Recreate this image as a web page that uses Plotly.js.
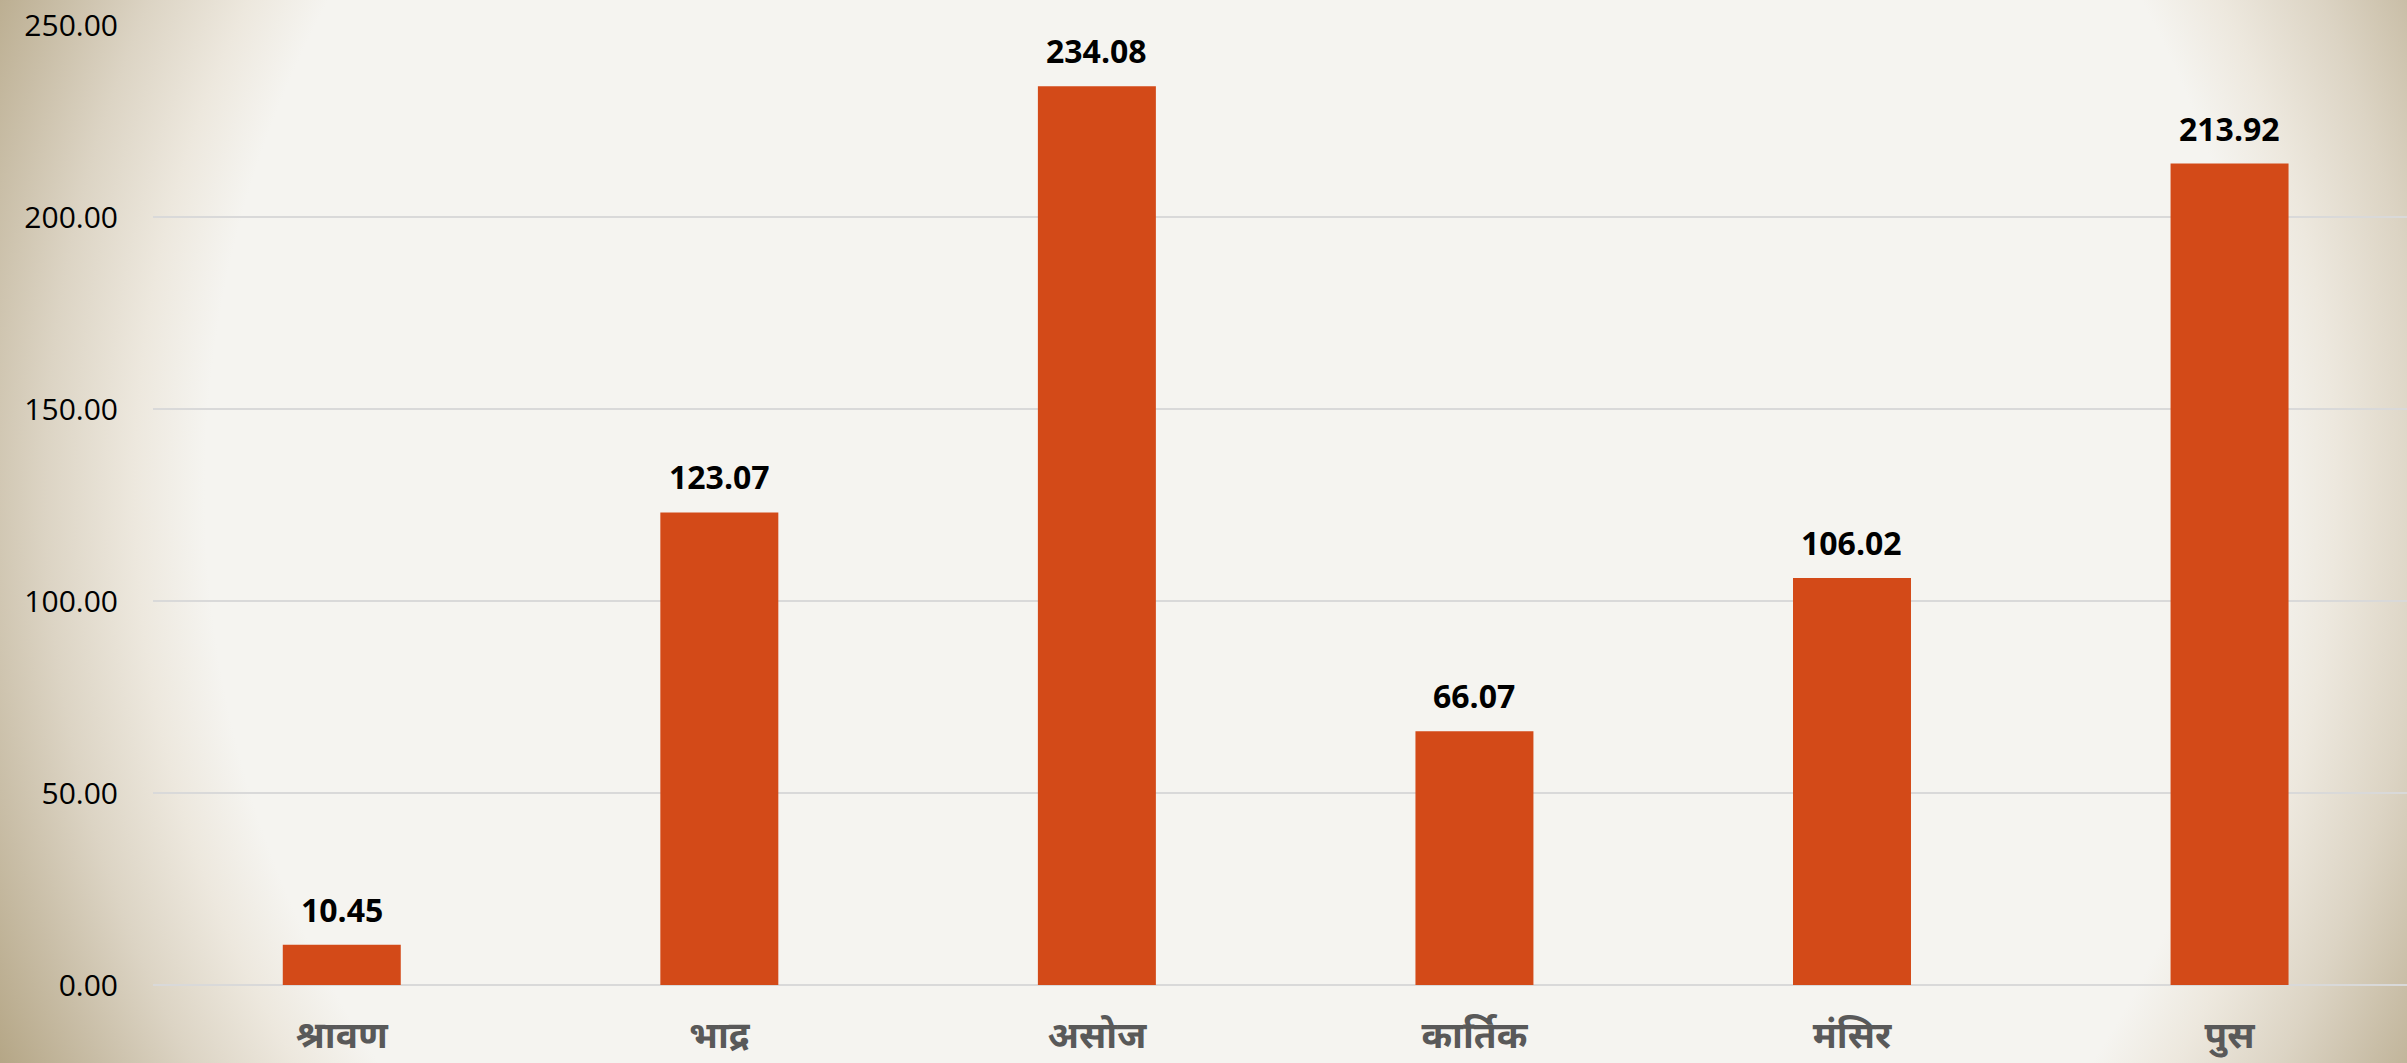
<!DOCTYPE html>
<html>
<head>
<meta charset="utf-8">
<script src="https://cdn.plot.ly/plotly-3.0.1.min.js"></script>
<style>
  html, body { margin: 0; padding: 0; width: 2407px; height: 1063px; overflow: hidden; }
  body {
    background: radial-gradient(circle 1370px at 1235px 490px,
      #f5f4f0 0px, #f5f4f0 1030px, #ede8de 1100px, #dcd4c4 1190px,
      #c9bea7 1270px, #b3a483 1370px);
  }
  #plotArea { width: 2407px; height: 1063px; }
</style>
</head>
<body>
<div id="plotArea"></div>
<script>
// months (Nepali calendar) and values
var months = ["श्रावण", "भाद्र", "असोज", "कार्तिक", "मंसिर", "पुस"];
var values = [10.45, 123.07, 234.08, 66.07, 106.02, 213.92];
var yTicks = [0, 50, 100, 150, 200, 250];

var trace = [{
    x: months,
    y: values,
    type: "bar",
    marker: {color: "#d34a18"},
    hoverinfo: "x+y"
}];

// value labels above bars
var labels = months.map(function (m, i) {
    return {
        x: m, y: values[i], text: "<b>" + values[i].toFixed(2) + "</b>",
        showarrow: false, yanchor: "bottom", yshift: 12,
        font: {family: "Open Sans, sans-serif", size: 32, color: "#000000"}
    };
});

var layout = {
    width: 2407,
    height: 1063,
    margin: {l: 153, r: 0, t: 25, b: 78},
    paper_bgcolor: "rgba(0,0,0,0)",
    plot_bgcolor: "rgba(0,0,0,0)",
    bargap: 0.6875,
    showlegend: false,
    xaxis: {
        range: [-0.5, 5.47],
        showgrid: false,
        zeroline: false,
        showline: false,
        ticks: "",
        ticklabelstandoff: 25,
        tickfont: {family: "Noto Sans, sans-serif", size: 37, color: "#595959", weight: "bold"}
    },
    yaxis: {
        range: [0, 250],
        tickvals: yTicks,
        tickformat: ".2f",
        showgrid: true,
        gridcolor: "#d9d9d9",
        gridwidth: 2,
        zeroline: true,
        zerolinecolor: "#d9d9d9",
        zerolinewidth: 2,
        showline: false,
        ticks: "",
        ticklabelstandoff: 34,
        tickfont: {family: "Open Sans, sans-serif", size: 30, color: "#000000"}
    },
    annotations: labels
};

Plotly.newPlot("plotArea", trace, layout, {displayModeBar: false, staticPlot: true});
</script>
</body>
</html>
